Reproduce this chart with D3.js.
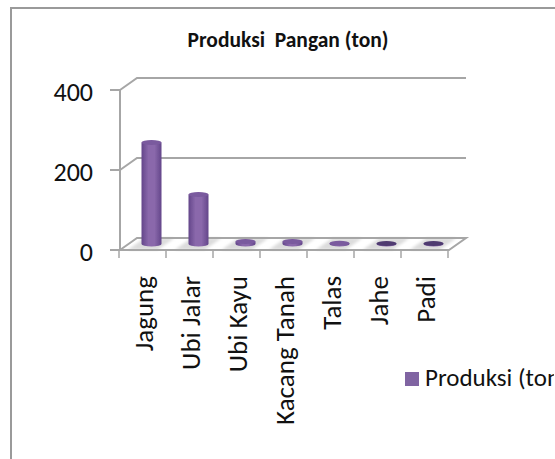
<!DOCTYPE html>
<html>
<head>
<meta charset="utf-8">
<script src="https://cdnjs.cloudflare.com/ajax/libs/d3/7.8.5/d3.min.js"></script>
<style>
html, body { margin: 0; padding: 0; background: #fff; overflow: hidden; }
text { font-family: Carlito, Lato, "Open Sans", "Noto Sans", sans-serif; fill: #111; }
</style>
</head>
<body>
<div id="chart"></div>
<script>
const WIDTH = 555, HEIGHT = 459;

const categories = ["Jagung", "Ubi Jalar", "Ubi Kayu", "Kacang Tanah", "Talas", "Jahe", "Padi"];
const values = [254, 124, 6, 6, 2, 1, 1];
const yTicks = [0, 200, 400];
const seriesName = "Produksi (ton)";
const chartTitle = "Produksi  Pangan (ton)";

// front edge of the box, the back wall is shifted by depth
const X0 = 120, X1 = 449, Y0 = 250, Y1 = 90;
const DX = 17, DY = -12;
const GREY = "#a6a6a6";

const svg = d3.select("#chart").append("svg")
  .attr("width", WIDTH).attr("height", HEIGHT)
  .style("display", "block");

const defs = svg.append("defs");
defs.append("filter").attr("id", "soft")
  .append("feGaussianBlur").attr("stdDeviation", 0.6);
defs.append("filter").attr("id", "softer")
  .append("feGaussianBlur").attr("stdDeviation", 1.5);
const grad = defs.append("linearGradient").attr("id", "cyl");
[[0, "#63468a"], [0.35, "#8a68ab"], [0.65, "#8a68ab"], [1, "#63468a"]].forEach(s =>
  grad.append("stop").attr("offset", s[0]).attr("stop-color", s[1]));
defs.append("clipPath").attr("id", "legendClip")
  .append("rect").attr("width", 554).attr("height", HEIGHT);

const x = d3.scaleBand().domain(categories).range([X0, X1]);
const y = d3.scaleLinear().domain([0, 400]).range([Y0, Y1]);

// outer frame
svg.append("path")
  .attr("d", `M${WIDTH},8H11V${HEIGHT}`)
  .attr("fill", "none").attr("stroke", "#9a9a9a").attr("stroke-width", 2);

svg.append("text")
  .attr("x", 288).attr("y", 47).attr("text-anchor", "middle")
  .attr("font-size", 21.5).attr("font-weight", "bold")
  .style("white-space", "pre")
  .text(chartTitle);

// grey shadow bands on the floor, one per category
svg.append("g").attr("filter", "url(#softer)")
  .selectAll("path").data(categories).join("path")
  .attr("fill", "#dcdcdc")
  .attr("d", d => {
    const cx = x(d) + x.step() / 2;
    return `M${cx - 16},${Y0}L${cx - 16 + DX},${Y0 + DY}H${cx + 14 + DX}L${cx + 14},${Y0}Z`;
  });

const box = svg.append("g").attr("filter", "url(#soft)")
  .attr("fill", "none").attr("stroke", GREY).attr("stroke-width", 2);

// floor
box.append("path")
  .attr("d", `M${X0},${Y0}L${X0 + DX},${Y0 + DY}H${X1 + DX}L${X1},${Y0}Z`);
// side wall edge and gridlines
box.append("line")
  .attr("x1", X0).attr("x2", X0).attr("y1", Y0).attr("y2", Y1);
box.selectAll(".grid").data(yTicks.slice(1)).join("path")
  .attr("class", "grid")
  .attr("d", d => `M${X0},${y(d)}L${X0 + DX},${y(d) + DY}H${X1 + DX}`);

// axis ticks
box.selectAll(".ytick").data(yTicks).join("line")
  .attr("class", "ytick")
  .attr("x1", X0 - 10).attr("x2", X0)
  .attr("y1", d => y(d)).attr("y2", d => y(d));
box.selectAll(".xtick").data(d3.range(categories.length + 1)).join("line")
  .attr("class", "xtick")
  .attr("stroke-width", 1.5)
  .attr("x1", i => X0 - 1 + i * x.step()).attr("x2", i => X0 - 1 + i * x.step())
  .attr("y1", Y0).attr("y2", Y0 + 8);

// cylinders stand in the middle of the floor
const barW = 20, capH = 2.5;
const bars = svg.append("g").attr("filter", "url(#soft)")
  .selectAll("g").data(categories).join("g")
  .attr("transform", d => `translate(${x(d) + x.step() / 2 + DX / 2 - 0.5},${DY / 2})`);

bars.append("path")
  .attr("fill", "url(#cyl)")
  .attr("d", (d, i) => {
    const top = y(values[i]), hw = barW / 2;
    return `M${-hw},${top}V${Y0}A${hw},${capH} 0 0 0 ${hw},${Y0}V${top}Z`;
  });
bars.append("ellipse")
  .attr("cy", (d, i) => y(values[i]))
  .attr("rx", barW / 2).attr("ry", capH)
  .attr("fill", (d, i) => i < 5 ? "#7a5a9e" : "#4f3a70");

// y labels
svg.selectAll(".ylab").data(yTicks).join("text")
  .attr("class", "ylab")
  .attr("x", 93).attr("y", d => y(d) + 11)
  .attr("text-anchor", "end").attr("font-size", 26)
  .text(d => d);

// x labels, rotated
svg.selectAll(".xlab").data(categories).join("text")
  .attr("class", "xlab")
  .attr("transform", d => `translate(${x(d) + x.step() / 2 + 9.5},276) rotate(-90)`)
  .attr("text-anchor", "end").attr("font-size", 27)
  .text(d => d);

// legend, the text runs off the right edge
svg.append("rect")
  .attr("x", 405).attr("y", 372).attr("width", 14).attr("height", 14)
  .attr("fill", "#8064a2");
svg.append("text")
  .attr("x", 425).attr("y", 386).attr("font-size", 25)
  .attr("clip-path", "url(#legendClip)")
  .text(seriesName);
</script>
</body>
</html>
